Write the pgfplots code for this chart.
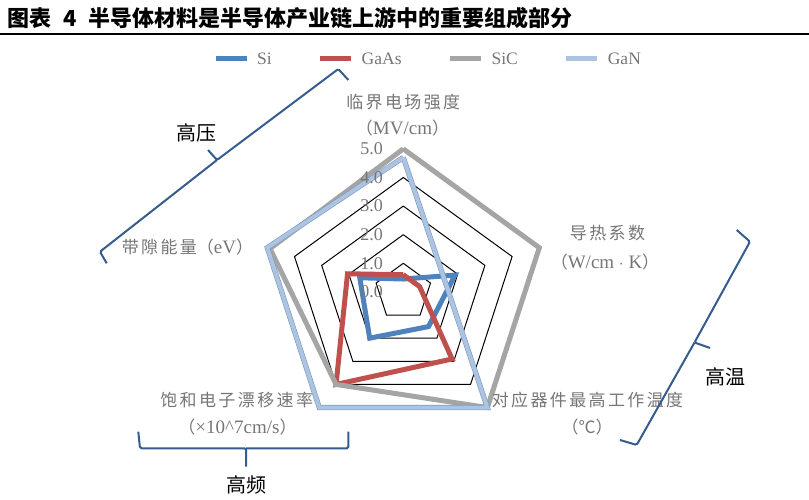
\documentclass[border=0pt]{standalone}
\usepackage{fontspec}
\setmainfont{Liberation Serif}
\newfontfamily\cjk{Noto Sans CJK SC}
\newfontfamily\cjkls[LetterSpace=14]{Noto Sans CJK SC}
\usepackage{pgfplots}
\usepackage{pgfplotstable}
\pgfplotsset{compat=1.18}
\definecolor{siC}{HTML}{4F81BD}
\definecolor{gaasC}{HTML}{C0504D}
\definecolor{sicC}{HTML}{A5A5A5}
\definecolor{ganC}{HTML}{ADC4E1}
\definecolor{ganD}{HTML}{7C9AC4}
\definecolor{labgray}{HTML}{767676}
\definecolor{brk}{HTML}{355C8C}

\pgfplotstableread{
a r
90 1
18 1
-54 1
-126 1
162 1
90 1
}\angles

% value on each spoke: top = critical field, 18 = thermal cond., -54 = max temp, -126 = drift velocity, 162 = band gap
\pgfplotstableread{
a v
90 0.45
18 1.9
-54 1.5
-126 2.0
162 1.6
90 0.45
}\Si
\pgfplotstableread{
a v
90 0.6
18 0.6
-54 2.9
-126 4.0
162 2.05
90 0.6
}\GaAs
\pgfplotstableread{
a v
90 5.0
18 5.0
-54 5.0
-126 4.0
162 4.9
90 5.0
}\SiC
\pgfplotstableread{
a v
90 4.7
18 1.5
-54 5.0
-126 5.0
162 5.0
90 4.7
}\GaN

\newcommand{\lat}[1]{{\fontsize{19}{19}\selectfont #1}}

\begin{document}
\begin{tikzpicture}[x=1pt,y=1pt]
\useasboundingbox (0,0) rectangle (809,500);
% title
\node[anchor=west, inner sep=0pt] at (7,482) {\fontsize{22}{22}\selectfont\cjk\bfseries 图表\hspace{12pt}4\hspace{12pt}半导体材料是半导体产业链上游中的重要组成部分};
\draw[black, line width=2pt] (0,465.5) -- (809,465.5);

\begin{axis}[
  at={(403.3pt,208.1pt)}, anchor=center,
  scale only axis, width=343.2pt, height=343.2pt,
  xmin=-6, xmax=6, ymin=-6, ymax=6,
  axis x line=none, axis y line=center,
  y axis line style={draw=none},
  axis on top=true,
  ytick={0,1,2,3,4,5}, major tick length=0pt,
  yticklabel style={/pgf/number format/fixed, /pgf/number format/fixed zerofill,
    /pgf/number format/precision=1, /pgf/number format/assume math mode=true,
    font=\fontsize{18}{18}\selectfont, text=labgray, anchor=east, xshift=-17pt},
  clip=false,
  legend columns=4,
  legend style={at={(0.572,1.1787)}, anchor=center, draw=none, fill=none,
    font=\fontsize{17.5}{17.5}\selectfont, text=labgray,
    /tikz/every odd column/.append style={column sep=6pt},
    /tikz/every even column/.append style={column sep=44pt}},
  legend image code/.code={\draw[#1, line width=5pt] (0pt,0pt) -- (31pt,0pt);},
]
\addplot[black, line width=1pt, forget plot, line join=miter]
  table[x expr={1*cos(\thisrow{a})}, y expr={1*sin(\thisrow{a})}] {\angles};
\addplot[black, line width=1pt, forget plot, line join=miter]
  table[x expr={2*cos(\thisrow{a})}, y expr={2*sin(\thisrow{a})}] {\angles};
\addplot[black, line width=1pt, forget plot, line join=miter]
  table[x expr={3*cos(\thisrow{a})}, y expr={3*sin(\thisrow{a})}] {\angles};
\addplot[black, line width=1pt, forget plot, line join=miter]
  table[x expr={4*cos(\thisrow{a})}, y expr={4*sin(\thisrow{a})}] {\angles};
\addplot[black, line width=1pt, forget plot, line join=miter]
  table[x expr={5*cos(\thisrow{a})}, y expr={5*sin(\thisrow{a})}] {\angles};
\addplot[siC, line width=5pt, line join=miter]
  table[x expr={\thisrow{v}*cos(\thisrow{a})}, y expr={\thisrow{v}*sin(\thisrow{a})}] {\Si};
\addlegendentry{Si}
\addplot[gaasC, line width=5pt, line join=miter]
  table[x expr={\thisrow{v}*cos(\thisrow{a})}, y expr={\thisrow{v}*sin(\thisrow{a})}] {\GaAs};
\addlegendentry{GaAs}
\addplot[sicC, line width=5pt, line join=miter]
  table[x expr={\thisrow{v}*cos(\thisrow{a})}, y expr={\thisrow{v}*sin(\thisrow{a})}] {\SiC};
\addlegendentry{SiC}
\addplot[ganD, line width=5.2pt, line join=miter, forget plot]
  table[x expr={\thisrow{v}*cos(\thisrow{a})}, y expr={\thisrow{v}*sin(\thisrow{a})}] {\GaN};
\addplot[ganC, line width=4pt, line join=miter]
  table[x expr={\thisrow{v}*cos(\thisrow{a})}, y expr={\thisrow{v}*sin(\thisrow{a})}] {\GaN};
\addlegendentry{GaN}
\end{axis}

% spoke labels
\begin{scope}[every node/.style={text=labgray, inner sep=0pt, font=\fontsize{17}{17}\selectfont}]
\node at (403.3,398.3) {\cjkls 临界电场强度};
\node at (402.5,371.7) {{\cjk （}\lat{MV/cm}{\cjk ）}};
\node at (607.5,267) {\cjkls 导热系数};
\node at (605,238.3) {{\cjk （}\lat{W/cm $\cdot$ K}{\cjk ）}};
\node at (587.5,100) {\cjkls 对应器件最高工作温度};
\node at (587,73.3) {\cjk （℃）};
\node at (236.7,100) {\cjkls 饱和电子漂移速率};
\node at (237.5,73.3) {{\cjk （}\lat{×10\textasciicircum 7cm/s}{\cjk ）}};
\node at (187.5,253.3) {{\cjkls 带隙能量}{\cjk （}\lat{eV}{\cjk ）}};
\end{scope}

% brackets
\begin{scope}[brk, line width=2pt, rounded corners=1.5pt]
\draw (348.3,420) -- (338.3,431) -- (217,340) -- (208,350);
\draw (217,340) -- (100,248.3) -- (106.7,236.7);
\draw (736.7,270) -- (750,258.3) -- (694.5,157.5) -- (710,152);
\draw (694.5,157.5) -- (636.7,55) -- (620,60);
\draw (138.3,68.3) -- (140,51.7) -- (246,51.7) -- (246,33.3);
\draw (246,51.7) -- (348.3,51.7) -- (348.3,68.3);
\end{scope}
\begin{scope}[every node/.style={text=black, inner sep=0pt, font=\fontsize{20}{20}\selectfont\cjk}]
\node at (196.7,366.7) {高压};
\node at (725,123.3) {高温};
\node at (246.7,15) {高频};
\end{scope}
\end{tikzpicture}
\end{document}
